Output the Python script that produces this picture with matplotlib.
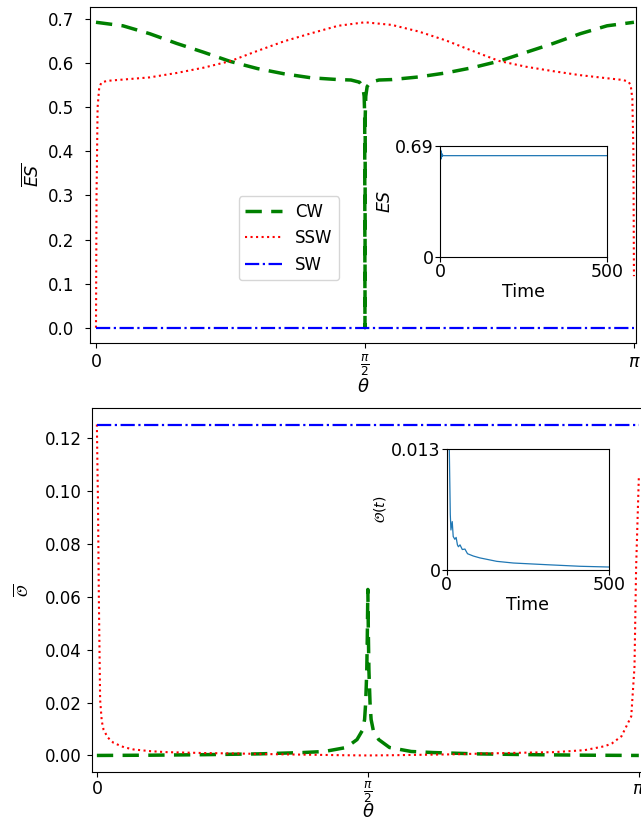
import numpy as np
import matplotlib
matplotlib.use("Agg")
import matplotlib.pyplot as plt

# ---------------- data (theta in units of pi) ----------------
es_cw_theta = [0.0, 0.05, 0.10, 0.15, 0.20, 0.25, 0.30, 0.35, 0.40, 0.45, 0.474, 0.49,
               0.496, 0.4985, 0.4995, 0.5, 0.5005, 0.5015, 0.504, 0.51, 0.526, 0.55,
               0.60, 0.65, 0.70, 0.75, 0.80, 0.85, 0.90, 0.95, 1.0]
es_cw_vals = [0.693, 0.685, 0.667, 0.645, 0.625, 0.604, 0.588, 0.576, 0.567, 0.563, 0.562, 0.557,
              0.547, 0.525, 0.48, 0.0, 0.48, 0.525, 0.547, 0.557, 0.562, 0.563,
              0.569, 0.578, 0.590, 0.605, 0.625, 0.645, 0.667, 0.685, 0.693]

es_ssw_theta = [0.0, 0.001, 0.003, 0.006, 0.01, 0.02, 0.05, 0.10, 0.15, 0.20, 0.25, 0.30,
                0.35, 0.40, 0.45, 0.50, 0.55, 0.60, 0.65, 0.70, 0.75, 0.80, 0.85, 0.90,
                0.95, 0.98, 0.99, 0.994, 0.997, 0.999, 1.0]
es_ssw_vals = [0.0, 0.30, 0.50, 0.545, 0.556, 0.560, 0.563, 0.568, 0.578, 0.590, 0.605, 0.628,
               0.650, 0.668, 0.685, 0.693, 0.687, 0.672, 0.652, 0.628, 0.605, 0.592, 0.582, 0.573,
               0.566, 0.562, 0.558, 0.550, 0.520, 0.400, 0.117]

es_sw_theta = [0.0, 1.0]
es_sw_vals = [0.0, 0.0]

o_cw_theta = [0.0, 0.1, 0.2, 0.3, 0.38, 0.42, 0.46, 0.48, 0.49, 0.494, 0.496, 0.498, 0.499,
              0.5, 0.501, 0.502, 0.504, 0.506, 0.51, 0.52, 0.54, 0.58, 0.62, 0.7, 0.8, 0.9, 1.0]
o_cw_vals = [0.0, 0.0001, 0.0003, 0.0006, 0.0011, 0.0015, 0.0030, 0.0060, 0.0095, 0.0136, 0.020,
             0.032, 0.045, 0.0627, 0.045, 0.032, 0.020, 0.0136, 0.0095, 0.0060, 0.0030, 0.0015,
             0.0011, 0.0006, 0.0003, 0.0001, 0.0]

o_ssw_theta = [0.0, 0.001, 0.002, 0.0037, 0.006, 0.009, 0.0123, 0.02, 0.0308, 0.05, 0.068, 0.10,
               0.129, 0.20, 0.253, 0.35, 0.45, 0.50, 0.55, 0.65, 0.72, 0.80, 0.844, 0.90, 0.937,
               0.95, 0.968, 0.986, 0.992, 0.995, 1.0]
o_ssw_vals = [0.125, 0.110, 0.096, 0.0585, 0.021, 0.013, 0.00975, 0.0068, 0.00475, 0.0031, 0.00225,
              0.0016, 0.00125, 0.0009, 0.00075, 0.0004, 0.0001, 0.0, 0.0001, 0.0004, 0.00075,
              0.0011, 0.00125, 0.0020, 0.0035, 0.0045, 0.00725, 0.01475, 0.0335, 0.071, 0.105]

o_sw_theta = [0.0, 1.0]
o_sw_vals = [0.125, 0.125]

# inset time series
es_t = [0, 1, 2, 3, 4, 5, 6, 8, 10, 500]
es_t_vals = [0.0, 0.69, 0.62, 0.66, 0.61, 0.645, 0.625, 0.633, 0.630, 0.630]

o_t = [0, 2, 5, 8, 11, 13, 17, 20, 25, 29, 33, 36, 41, 48, 56, 64, 82, 102, 154, 205, 307, 410, 500]
o_t_vals = [0.0, 0.03, 0.022, 0.013, 0.006, 0.0043, 0.0052, 0.0036, 0.0033, 0.0035, 0.0027, 0.0025,
            0.0027, 0.0022, 0.00225, 0.00175, 0.0015, 0.0013, 0.00093, 0.00075, 0.00057, 0.0004, 0.00032]

labels = ["CW", "SSW", "SW"]
xtick_labels = [r"$0$", r"$\frac{\pi}{2}$", r"$\pi$"]

# ---------------- figure ----------------
W, H = 641, 821
fig = plt.figure(figsize=(W / 100, H / 100), dpi=100)

def px_axes(l, r, t, b):
    return fig.add_axes([l / W, 1 - b / H, (r - l) / W, (b - t) / H])

cw_style = dict(color="green", lw=2.5, linestyle=(0, (4.7, 2.7)))
ssw_style = dict(color="red", lw=1.5, linestyle=":")
sw_style = dict(color="blue", lw=1.6, linestyle="-.")

pi = np.pi
tick_fs = 12

# ---- top panel ----
ax1 = px_axes(90, 636, 7, 343)
ax1.plot(np.array(es_cw_theta) * pi, es_cw_vals, label=labels[0], **cw_style)
ax1.plot(np.array(es_ssw_theta) * pi, es_ssw_vals, label=labels[1], **ssw_style)
ax1.plot(np.array(es_sw_theta) * pi, es_sw_vals, label=labels[2], **sw_style)
ax1.set_xlim(-0.035, pi + 0.012)
ax1.set_xticks([0, pi / 2, pi])
ax1.set_xticklabels(xtick_labels)
ax1.set_yticks(np.arange(0, 0.71, 0.1))
ax1.tick_params(labelsize=tick_fs)
ax1.tick_params(axis="y", pad=8)
ax1.tick_params(axis="x", labelsize=12.5)
ax1.set_xlabel(r"$\theta$", fontsize=13, labelpad=0)
ax1.set_ylabel(r"$\overline{ES}$", fontsize=12.5, labelpad=4)
ax1.legend(loc="lower left", bbox_to_anchor=(0.272, 0.187), borderaxespad=0, fontsize=12,
           handlelength=2.2)

ins1 = px_axes(440, 607, 146, 257)
ins1.plot(es_t, es_t_vals, color="#1f77b4", lw=0.9)
ins1.set_xlim(0, 500)
ins1.set_ylim(0, 0.69)
ins1.set_xticks([0, 500])
ins1.set_xticklabels(["0", "500"])
ins1.set_yticks([0, 0.69])
ins1.set_yticklabels(["0", "0.69"])
ins1.tick_params(labelsize=12.5, pad=1)
ins1.set_xlabel("Time", fontsize=12.5, labelpad=1)
ins1.set_ylabel(r"$ES$", fontsize=12.5, labelpad=1)

# ---- bottom panel ----
ax2 = px_axes(91.7, 644, 408, 772)
ax2.plot(np.array(o_cw_theta) * pi, o_cw_vals, label=labels[0], **cw_style)
ax2.plot(np.array(o_ssw_theta) * pi, o_ssw_vals, label=labels[1], **ssw_style)
ax2.plot(np.array(o_sw_theta) * pi, o_sw_vals, label=labels[2], **sw_style)
ax2.set_xlim(-0.03, pi + 0.03)
ax2.set_xticks([0, pi / 2, pi])
ax2.set_xticklabels(xtick_labels)
ax2.set_yticks(np.arange(0, 0.121, 0.02))
ax2.set_yticklabels(["%.2f" % v for v in np.arange(0, 0.121, 0.02)])
ax2.tick_params(labelsize=tick_fs)
ax2.tick_params(axis="x", labelsize=12.5, pad=2)
ax2.set_xlabel(r"$\theta$", fontsize=13, labelpad=-1.5)
ax2.set_ylabel(r"$\overline{\mathcal{O}}$", fontsize=11, labelpad=9)

ins2 = px_axes(446.7, 609.3, 449, 570)
ins2.plot(o_t, o_t_vals, color="#1f77b4", lw=0.9)
ins2.set_xlim(0, 500)
ins2.set_ylim(0, 0.013)
ins2.set_xticks([0, 500])
ins2.set_xticklabels(["0", "500"])
ins2.set_yticks([0, 0.013])
ins2.set_yticklabels(["0", "0.013"])
ins2.tick_params(labelsize=12.5, pad=1)
ins2.set_xlabel("Time", fontsize=12.5, labelpad=1)
ins2.set_ylabel(r"$\mathcal{O}(t)$", fontsize=10, labelpad=2)

fig.savefig("out.png", dpi=100)
